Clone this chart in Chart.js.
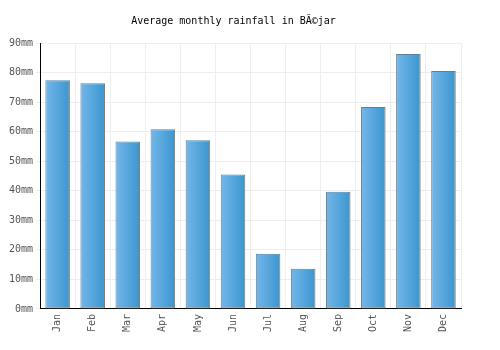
<!DOCTYPE html>
<html>
<head>
<meta charset="utf-8">
<script src="https://cdn.jsdelivr.net/npm/chart.js@4"></script>
<style>
  html, body { margin: 0; padding: 0; background: #fff; }
  #wrap { width: 500px; height: 350px; }
</style>
</head>
<body>
<div id="wrap"><canvas id="rainChart" width="500" height="350"></canvas></div>
<script>
  // ---------- Data ----------
  const months = ["Jan", "Feb", "Mar", "Apr", "May", "Jun", "Jul", "Aug", "Sep", "Oct", "Nov", "Dec"];
  const rainfall = [77.4, 76.4, 56.7, 60.8, 57.1, 45.5, 18.7, 13.6, 39.7, 68.3, 86.3, 80.5];
  const yTicks = [0, 10, 20, 30, 40, 50, 60, 70, 80, 90];

  const monoFont = "'DejaVu Sans Mono', monospace";

  // paint a left-to-right gradient on each bar once its position is known
  const barGradientPlugin = {
    id: "barGradient",
    beforeDatasetsDraw(chart) {
      const ctx = chart.ctx;
      chart.getDatasetMeta(0).data.forEach((bar) => {
        const w = bar.width;
        const g = ctx.createLinearGradient(bar.x - w / 2, 0, bar.x + w / 2, 0);
        g.addColorStop(0, "#74b6e9");
        g.addColorStop(1, "#3a96cf");
        bar.options = Object.assign({}, bar.options, { backgroundColor: g });
      });
    },
  };

  new Chart(document.getElementById("rainChart"), {
    type: "bar",
    data: {
      labels: months,
      datasets: [{
        label: "Rainfall",
        data: rainfall,
        backgroundColor: "#4fa3dc",
        borderColor: "#7a7a7a",
        borderWidth: 1,
        borderSkipped: false,
        categoryPercentage: 1,
        barPercentage: 0.7,
      }],
    },
    plugins: [barGradientPlugin],
    options: {
      responsive: false,
      animation: false,
      layout: { padding: { left: 6, right: 39, top: 5, bottom: 13 } },
      plugins: {
        legend: { display: false },
        tooltip: { enabled: false },
        title: {
          display: true,
          text: "Average monthly rainfall in BĂ©jar",
          color: "#000",
          font: { family: monoFont, size: 10, weight: "normal" },
          padding: { top: 10, bottom: 16 },
        },
      },
      scales: {
        x: {
          grid: { color: "#eeeeee", offset: true, drawTicks: false },
          border: { color: "#000", width: 1 },
          ticks: {
            color: "#555",
            font: { family: monoFont, size: 10 },
            maxRotation: 90,
            minRotation: 90,
            padding: 5,
          },
        },
        y: {
          min: 0,
          max: 90,
          afterBuildTicks: (axis) => { axis.ticks = yTicks.map((v) => ({ value: v })); },
          grid: { color: "#eeeeee", drawTicks: true, tickLength: 4 },
          border: { color: "#000", width: 1 },
          ticks: {
            color: "#555",
            font: { family: monoFont, size: 10 },
            padding: 3,
            callback: (v) => v + "mm",
          },
        },
      },
    },
  });
</script>
</body>
</html>
